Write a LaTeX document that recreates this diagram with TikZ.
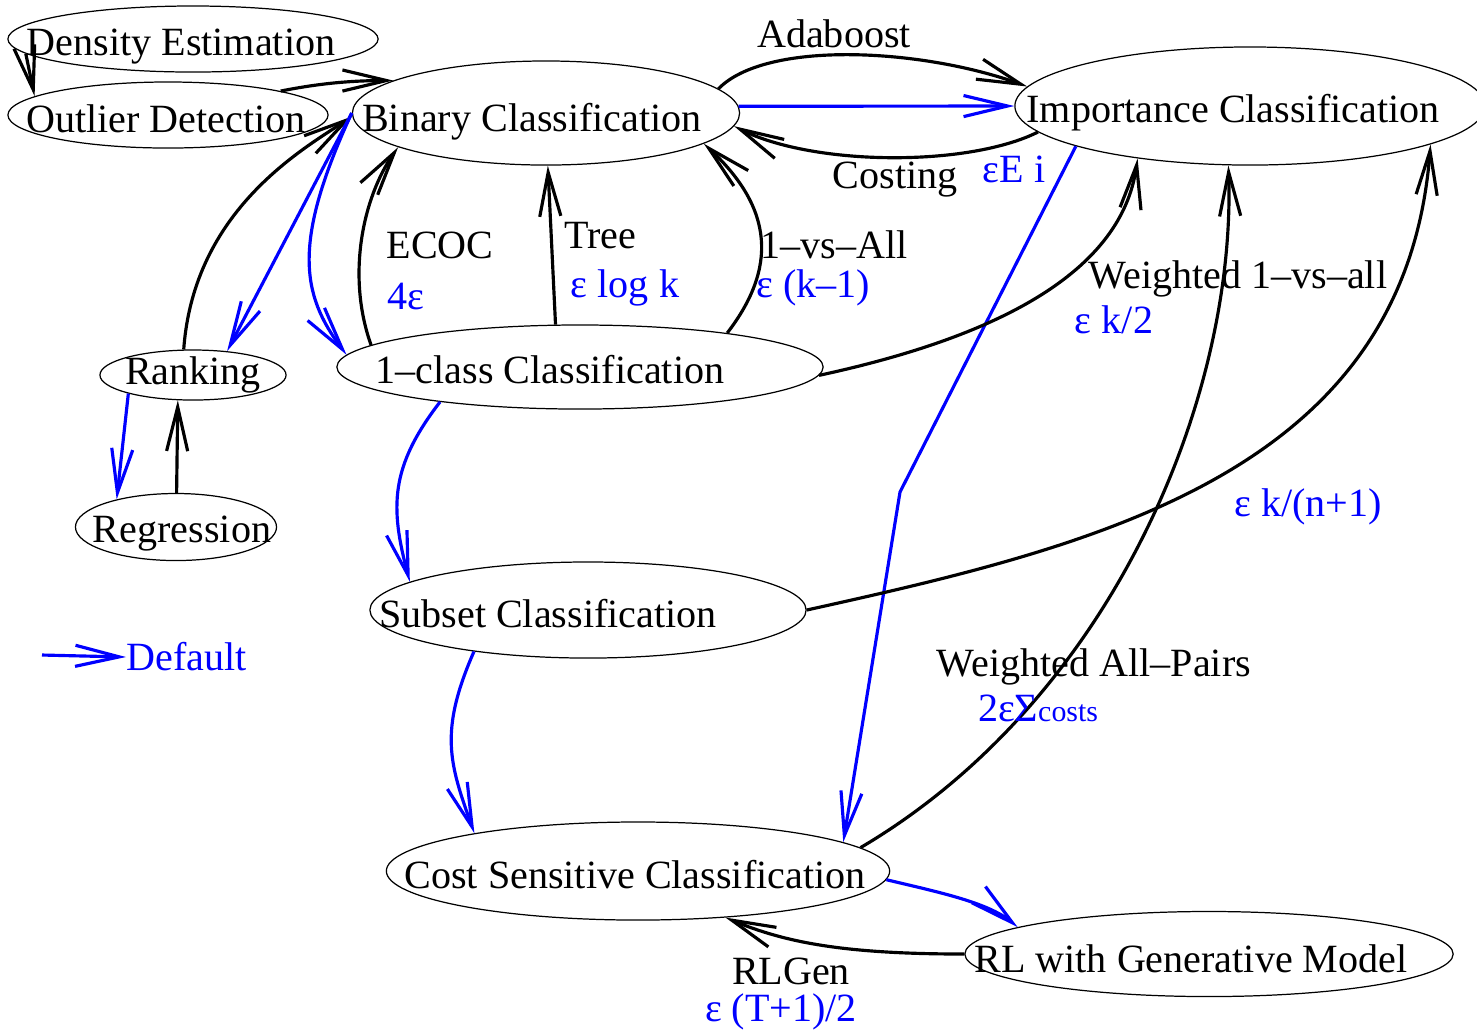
\documentclass[tikz,border=0pt]{standalone}
\usepackage{fontspec}
\setmainfont{Liberation Serif}
\usetikzlibrary{shapes.geometric,arrows.meta}

\begin{document}
\begin{tikzpicture}[x=.01cm,y=-.01cm,font=\fontsize{11.4}{13}\selectfont,
  ell/.style={draw,ellipse,line width=.35pt,inner sep=0pt},
  conn/.style={line width=.9pt,-{Straight Barb[length=12.5pt,width=6pt]}},
  dflt/.style={conn,blue},
  lab/.style={inner sep=0pt},
  blab/.style={inner sep=0pt,text=blue}]
\useasboundingbox (0,0) rectangle (1477,1029);
% problems
\node[ell,minimum width=3.7cm,minimum height=.66cm,label={[xshift=-.12cm,yshift=-.08cm]center:Density Estimation}] (dens) at (193,39) {};
\node[ell,minimum width=3.2cm,minimum height=.66cm,label={[xshift=-.02cm,yshift=-.04cm]center:Outlier Detection}] (outl) at (168,115) {};
\node[ell,minimum width=3.87cm,minimum height=1.04cm,label={[xshift=-.14cm,yshift=-.09cm]center:Binary Classification}] (bin) at (546,113) {};
\node[ell,minimum width=4.7cm,minimum height=1.18cm,label={[xshift=-.17cm,yshift=-.07cm]center:Importance Classification}] (imp) at (1250,106) {};
\node[ell,minimum width=1.86cm,minimum height=.5cm,label={center:Ranking}] (rank) at (193,375) {};
\node[ell,minimum width=4.86cm,minimum height=.84cm,label={[xshift=-.3cm,yshift=-.03cm]center:1–class Classification}] (one) at (580,367) {};
\node[ell,minimum width=2.01cm,minimum height=.67cm,label={[xshift=.06cm,yshift=-.07cm]center:Regression}] (regr) at (176,527) {};
\node[ell,minimum width=4.36cm,minimum height=.96cm,label={[xshift=-.4cm,yshift=-.04cm]center:Subset Classification}] (sub) at (588,610) {};
\node[ell,minimum width=5.03cm,minimum height=.98cm,label={[xshift=-.03cm,yshift=-.04cm]center:Cost Sensitive Classification}] (cost) at (638,871) {};
\node[ell,minimum width=4.88cm,minimum height=.85cm,label={[xshift=-.18cm,yshift=-.05cm]center:RL with Generative Model}] (rl) at (1209,954) {};

% reductions
\draw[conn] (dens.185) -- (outl.172);
\draw[conn] (outl.12) .. controls +(40,-8) and +(-40,0) .. (bin.168);
\draw[conn] (rank.110) .. controls +(10,-140) and +(-48,32) .. (bin.181);
\draw[dflt] (bin.180) -- (rank.35);
\draw[dflt] (bin.180) .. controls +(-60,130) and +(-45,-60) .. (one.177);
\draw[conn] (one.174) .. controls +(-25,-70) and +(-35,50) .. (bin.193);
\draw[conn] (one.120) -- (bin.272);
\draw[conn] (one.13) .. controls +(50,-65) and +(70,65) .. (bin.349);
\draw[conn] (bin.8) .. controls +(48,-49) and +(-105,-38) .. (imp.175);
\draw[dflt] (bin.2) -- (imp.180);
\draw[conn] (imp.187) .. controls +(-70,35) and +(80,40) .. (bin.356);
\coordinate (kink) at (900,492);
\draw[dflt] (imp.193) -- (kink) -- (cost.8);
\draw[conn] (one.358) .. controls +(162,-35) and +(-17,121) .. (imp.205);
\draw[conn] (sub.east) .. controls +(294,-65) and +(-25,327) .. (imp.348);
\draw[conn] (cost.6) .. controls +(251,-148) and +(8,233) .. (imp.250);
\draw[dflt] (one.194) .. controls +(-50,65) and +(-20,-75) .. (sub.171);
\draw[dflt] (sub.200) .. controls +(-35,80) and +(-25,-70) .. (cost.167);
\draw[dflt] (cost.358) .. controls +(50,12) and +(-30,-25) .. (rl.172);
\draw[conn] (rl.180) .. controls +(-120,0) and +(60,25) .. (cost.332);
\draw[dflt] (rank.196) -- (regr.155);
\draw[conn] (regr.89) -- (rank.239);

% labels
\node[lab] (adab) at (834,34) {Adaboost};
\node[lab] (cstg) at (895,180) {Costing};
\node[blab] (cstgv) at (1014,169) {εE i};
\node[lab] (ecoc) at (440,245) {ECOC};
\node[blab] (ecocv) at (406,296) {4ε};
\node[lab] (tree) at (600,236) {Tree};
\node[blab] (treev) at (625,288) {ε log k};
\node[lab] (ova) at (834,245) {1–vs–All};
\node[blab] (ovav) at (813,288) {ε (k–1)};
\node[lab] (wova) at (1238,279) {Weighted 1–vs–all};
\node[blab] (wovav) at (1114,320) {ε k/2};
\node[blab] (subv) at (1308,507) {ε k/(n+1)};
\node[lab] (wap) at (1094,667) {Weighted All–Pairs};
\node[blab] (wapv) at (1038,708) {2εΣ{\fontsize{8.5}{9}\selectfont costs}};
\node[lab] (rlg) at (791,971) {RLGen};
\node[blab] (rlgv) at (781,1012) {ε (T+1)/2};

% legend
\coordinate (legs) at (42,655);
\node[blab,anchor=west] (deflab) at (126,657) {Default};
\draw[dflt] (legs) -- (deflab.west);
\end{tikzpicture}
\end{document}
